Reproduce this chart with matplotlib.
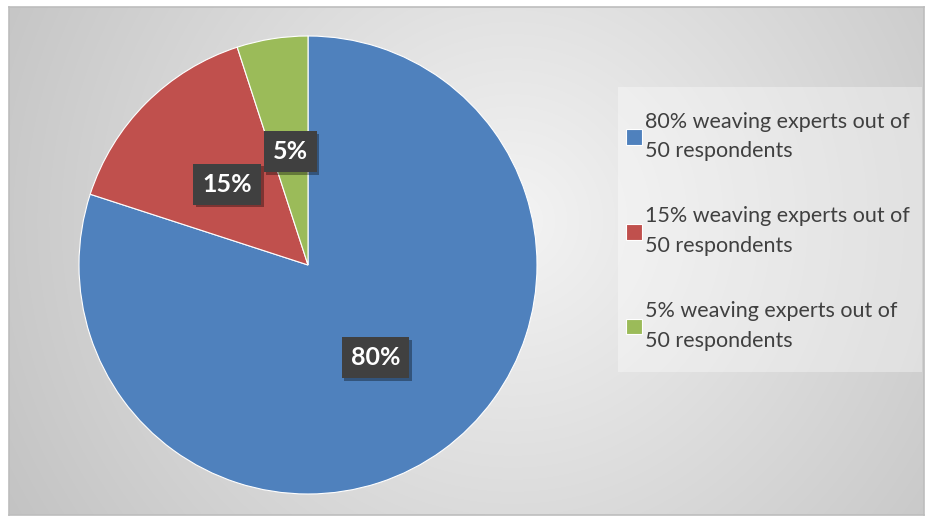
import numpy as np
import matplotlib
matplotlib.use("Agg")
import matplotlib.pyplot as plt
from matplotlib.patches import Rectangle
import matplotlib.patheffects as pe

categories = ["80% weaving experts out of\n50 respondents",
              "15% weaving experts out of\n50 respondents",
              "5% weaving experts out of\n50 respondents"]
values = [80, 15, 5]
colors = ["#4f81bd", "#c0504d", "#9bbb59"]

plt.rcParams['font.family'] = ['Lato', 'DejaVu Sans']

W, H = 927, 519
fig = plt.figure(figsize=(W / 100, H / 100), dpi=100)
fig.patch.set_facecolor("white")

# background chart area with radial gradient
bx0, by0, bw, bh = 9, 4, 915, 508
bg = fig.add_axes([bx0 / W, by0 / H, bw / W, bh / H])
yy, xx = np.mgrid[0:bh, 0:bw]
cx, cy = bw * 0.55, bh * 0.42
d = np.sqrt((xx - cx) ** 2 + (yy - cy) ** 2)
d = d / d.max()
g = 0.955 - 0.19 * d
img = np.dstack([g, g, g])
bg.imshow(img, aspect="auto", extent=(0, bw, 0, bh), origin="upper")
bg.set_xlim(0, bw)
bg.set_ylim(0, bh)
bg.set_xticks([])
bg.set_yticks([])
for s in bg.spines.values():
    s.set_color("#bdbdbd")
    s.set_linewidth(1.2)

# pie
cxp, cyp, r = 308, 265, 229
ax = fig.add_axes([(cxp - r) / W, (H - cyp - r) / H, 2 * r / W, 2 * r / H])
ax.set_facecolor("none")
wedges, texts, autotexts = ax.pie(
    values, colors=colors, startangle=90, counterclock=False,
    autopct="%1.0f%%", pctdistance=0.5, radius=1,
    wedgeprops=dict(edgecolor="white", linewidth=0.8),
    textprops=dict(color="white", fontsize=18, fontweight="bold"))
for t in autotexts:
    t.set_bbox(dict(boxstyle="square,pad=0.36", facecolor="#404040", edgecolor="none"))
    t.get_bbox_patch().set_path_effects([
        pe.SimplePatchShadow(offset=(2, -2), shadow_rgbFace="black", alpha=0.35),
        pe.Normal()])
ax.set_xlim(-1, 1)
ax.set_ylim(-1, 1)
ax.set_aspect("equal")
ax.axis("off")

# legend background box
lx0, ly0, lx1, ly1 = 618, 87, 922, 372
fig.patches.append(Rectangle((lx0 / W, 1 - ly1 / H), (lx1 - lx0) / W, (ly1 - ly0) / H,
                             transform=fig.transFigure, facecolor="white",
                             alpha=0.35, edgecolor="none", zorder=1))

leg = fig.legend(wedges, categories, loc="upper left",
                 bbox_to_anchor=(617 / W, 1 - 103 / H),
                 frameon=False, fontsize=15.5, labelcolor="#404040",
                 handlelength=0.75, handleheight=0.75, handletextpad=0.17,
                 labelspacing=2.1, borderaxespad=0)
for t in leg.get_texts():
    t.set_linespacing(1.6)

fig.savefig("out.png", dpi=100)
